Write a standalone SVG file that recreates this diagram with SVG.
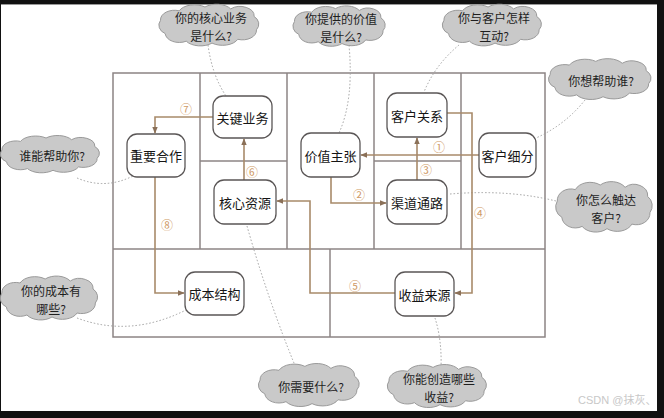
<svg xmlns="http://www.w3.org/2000/svg" width="664" height="418" viewBox="0 0 664 418">
<style>
.frame{fill:none;stroke:#8c8484;stroke-width:1.5}
.node rect{fill:#fff;stroke:#5a5656;stroke-width:1.3}
.node text{font-family:"Noto Sans CJK SC","Noto Sans",sans-serif;font-size:13px;fill:#151515;text-anchor:middle;dominant-baseline:central}
.cloud use{fill:#c9c9c9;stroke:#9a9a9a;stroke-width:1}
.cloud text{font-family:"Noto Sans CJK SC","Noto Sans",sans-serif;font-size:12px;fill:#1e1e1e;text-anchor:middle;dominant-baseline:central}
.arrow{fill:none;stroke:#a88a6a;stroke-width:1.6}
.dot{fill:none;stroke:#a0a0a0;stroke-width:1;stroke-dasharray:1.5 2}
.num{font-family:"Noto Sans CJK SC","DejaVu Sans",sans-serif;font-size:12px;fill:#cf9a66;text-anchor:middle;dominant-baseline:central}
</style>
<defs>
<marker id="ah" viewBox="0 0 10 10" refX="9" refY="5" markerWidth="7" markerHeight="7" orient="auto" markerUnits="userSpaceOnUse">
<path d="M0,1 L10,5 L0,9 z" fill="#8a7058"/>
</marker>
<path id="cl" vector-effect="non-scaling-stroke" d="M-40,8 a10,10 0 0,1 -4,-14 a12,10 0 0,1 16,-10 a14,10 0 0,1 22,-4 a14,10 0 0,1 22,2 a12,10 0 0,1 20,8 a10,10 0 0,1 2,14 a12,10 0 0,1 -16,10 a14,10 0 0,1 -22,4 a14,10 0 0,1 -22,-2 a12,10 0 0,1 -18,-8 z"/>
</defs>
<rect x="0" y="0" width="664" height="418" fill="#111"/>
<rect x="1" y="4" width="656" height="407" fill="#fff"/>
<line x1="1" y1="4.5" x2="657" y2="4.5" stroke="#999" stroke-width="1"/>

<g id="frame">
<rect class="frame" x="113" y="73" width="432" height="264"/>
<line class="frame" x1="113" y1="249" x2="545" y2="249"/>
<line class="frame" x1="200" y1="73" x2="200" y2="249"/>
<line class="frame" x1="287" y1="73" x2="287" y2="249"/>
<line class="frame" x1="374" y1="73" x2="374" y2="249"/>
<line class="frame" x1="461" y1="73" x2="461" y2="249"/>
<line class="frame" x1="200" y1="161" x2="287" y2="161"/>
<line class="frame" x1="374" y1="161" x2="461" y2="161"/>
<line class="frame" x1="330" y1="249" x2="330" y2="337"/>
</g>

<g id="connectors">
<path class="dot" d="M208,45 Q212,75 226,96"/>
<path class="dot" d="M349,45 Q354,100 339,133"/>
<path class="dot" d="M459,45 Q435,65 424,92"/>
<path class="dot" d="M585,100 Q565,125 536,138"/>
<path class="dot" d="M77,178 Q105,190 133,176"/>
<path class="dot" d="M450,194 Q510,189 560,202"/>
<path class="dot" d="M77,318 Q130,338 186,310"/>
<path class="dot" d="M247,226 Q268,300 296,368"/>
<path class="dot" d="M435,318 Q442,340 441,368"/>
<path class="arrow" marker-end="url(#ah)" d="M479,155 H361"/>
<path class="arrow" marker-end="url(#ah)" d="M331,177 V203 H386"/>
<path class="arrow" marker-end="url(#ah)" d="M417,180 V138"/>
<path class="arrow" marker-end="url(#ah)" d="M447,113 H472 V293 H455"/>
<path class="arrow" marker-end="url(#ah)" d="M395,293 H310 V201 H277"/>
<path class="arrow" marker-end="url(#ah)" d="M244,180 V139"/>
<path class="arrow" marker-end="url(#ah)" d="M213,117 H155 V133"/>
<path class="arrow" marker-end="url(#ah)" d="M155,177 V293 H184"/>
<text class="num" x="439" y="146">①</text>
<text class="num" x="359" y="194">②</text>
<text class="num" x="426" y="169">③</text>
<text class="num" x="480" y="212">④</text>
<text class="num" x="355" y="285">⑤</text>
<text class="num" x="252" y="171">⑥</text>
<text class="num" x="186" y="108">⑦</text>
<text class="num" x="167" y="224">⑧</text>
</g>

<g id="n-guanjian" class="node"><rect x="213" y="96" width="59" height="42" rx="10"/><text x="242.5" y="117">关键业务</text></g>
<g id="n-hezuo" class="node"><rect x="127" y="134" width="58" height="43" rx="10"/><text x="156" y="155.5">重要合作</text></g>
<g id="n-ziyuan" class="node"><rect x="214" y="180" width="62" height="44" rx="10"/><text x="245" y="202">核心资源</text></g>
<g id="n-jiazhi" class="node"><rect x="301" y="133" width="59" height="44" rx="10"/><text x="330.5" y="155">价值主张</text></g>
<g id="n-guanxi" class="node"><rect x="387" y="93" width="60" height="44" rx="10"/><text x="417" y="115">客户关系</text></g>
<g id="n-qudao" class="node"><rect x="387" y="180" width="60" height="44" rx="10"/><text x="417" y="202">渠道通路</text></g>
<g id="n-xifen" class="node"><rect x="479" y="133" width="57" height="44" rx="10"/><text x="507.5" y="155">客户细分</text></g>
<g id="n-chengben" class="node"><rect x="185" y="272" width="59" height="43" rx="10"/><text x="214.5" y="293.5">成本结构</text></g>
<g id="n-shouyi" class="node"><rect x="395" y="272" width="59" height="44" rx="10"/><text x="424.5" y="294">收益来源</text></g>

<g id="c-hexin" class="cloud"><use href="#cl" transform="translate(212,26) scale(1.17,0.95)"/><text x="211" y="17">你的核心业务</text><text x="211" y="35">是什么?</text></g>
<g id="c-jiazhi" class="cloud"><use href="#cl" transform="translate(342,27) scale(1.08,0.92)"/><text x="341" y="18">你提供的价值</text><text x="341" y="36">是什么?</text></g>
<g id="c-hudong" class="cloud"><use href="#cl" transform="translate(495,26) scale(1.16,0.95)"/><text x="494" y="17">你与客户怎样</text><text x="494" y="35">互动?</text></g>
<g id="c-bangzhu" class="cloud"><use href="#cl" transform="translate(603,80) scale(1.2,0.93)"/><text x="601" y="80">你想帮助谁?</text></g>
<g id="c-shui" class="cloud"><use href="#cl" transform="translate(53,155) scale(1.16,0.85)"/><text x="52" y="155">谁能帮助你?</text></g>
<g id="c-chuda" class="cloud"><use href="#cl" transform="translate(607,208) scale(1.13,1.15)"/><text x="606" y="199">你怎么触达</text><text x="606" y="217">客户?</text></g>
<g id="c-chengben" class="cloud"><use href="#cl" transform="translate(52,299) scale(1.14,1.0)"/><text x="51" y="290">你的成本有</text><text x="51" y="308">哪些?</text></g>
<g id="c-xuyao" class="cloud"><use href="#cl" transform="translate(312,386) scale(1.18,0.98)"/><text x="311" y="386">你需要什么?</text></g>
<g id="c-shouyi" class="cloud"><use href="#cl" transform="translate(440,387) scale(1.16,0.98)"/><text x="439" y="378">你能创造哪些</text><text x="439" y="396">收益?</text></g>

<text x="578" y="404" font-family="Liberation Sans, Noto Sans CJK SC, sans-serif" font-size="11" fill="#c8c8c8">CSDN @抹灰、</text>
</svg>
